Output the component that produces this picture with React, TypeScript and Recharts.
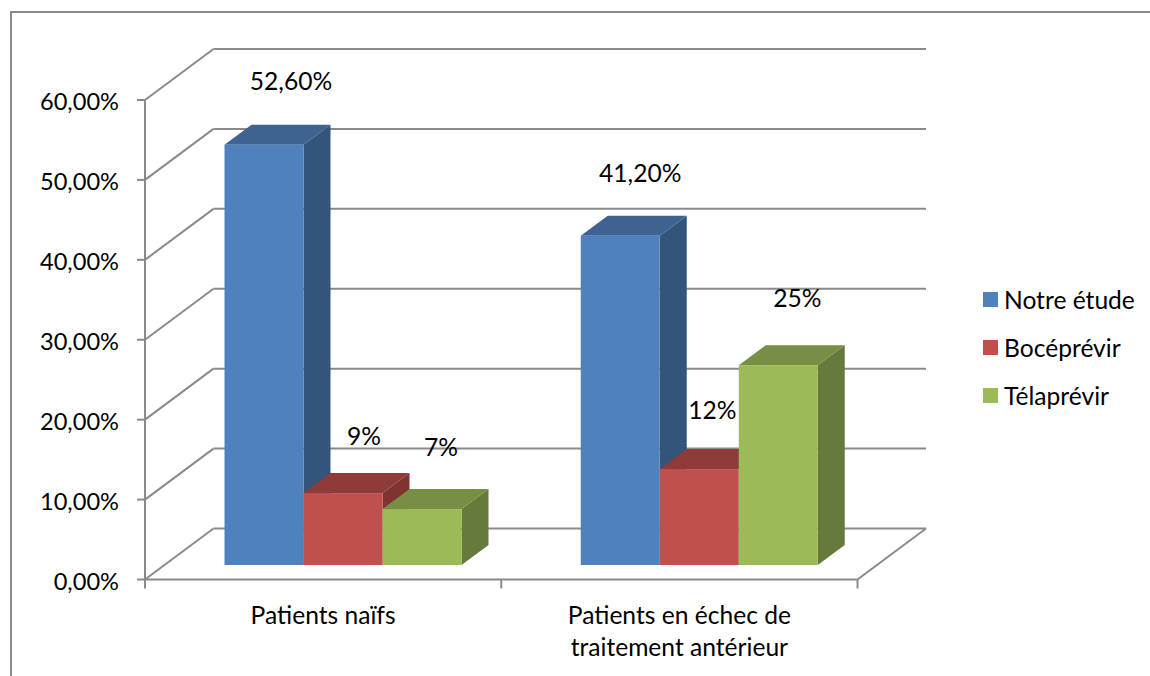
import React from "react";
import { BarChart, Bar, XAxis, YAxis, CartesianGrid, Legend, LabelList } from "recharts";

const categories = ["Patients naïfs", "Patients en échec de traitement antérieur"];
const categoryLines = [["Patients naïfs"], ["Patients en échec de", "traitement antérieur"]];
const yTicks = [0, 10, 20, 30, 40, 50, 60];

const notreEtude = [52.6, 41.2];
const boceprevir = [9, 12];
const telaprevir = [7, 25];

const notreEtudeLabels = ["52,60%", "41,20%"];
const boceprevirLabels = ["9%", "12%"];
const telaprevirLabels = ["7%", "25%"];

const data = categories.map((name, i) => ({
  name,
  etude: notreEtude[i],
  boce: boceprevir[i],
  tela: telaprevir[i],
}));

const W = 1150;
const H = 676;
const FONT = "Lato, sans-serif";
const FONT_SIZE = 24.6;
const LINE = "#8a8a8a";

const margin = { top: 100, right: 292.5, bottom: 0, left: 0 };
const YAXIS_W = 145;
const XAXIS_H = 96.5;
const PLOT_W = W - YAXIS_W - margin.right;
const BASE_Y = H - XAXIS_H;

// 3d look: back wall offset, bar front offset from the axis plane, bar depth
const WALL = { dx: 68.5, dy: -51 };
const FRONT = { dx: 20.5, dy: -14.5 };
const DEPTH = { dx: 27, dy: -20 };

const makeBar3d = (front: string, top: string, side: string) => (props: any) => {
  const { x, y, width, height } = props;
  const l = x + FRONT.dx;
  const r = l + width;
  const t = y + FRONT.dy;
  const b = t + height;
  return (
    <g>
      <polygon
        points={`${r},${t} ${r + DEPTH.dx},${t + DEPTH.dy} ${r + DEPTH.dx},${b + DEPTH.dy} ${r},${b}`}
        fill={side}
      />
      <polygon
        points={`${l},${t} ${l + DEPTH.dx},${t + DEPTH.dy} ${r + DEPTH.dx},${t + DEPTH.dy} ${r},${t}`}
        fill={top}
      />
      <rect x={l} y={t} width={width} height={height} fill={front} />
    </g>
  );
};

const makeLabel = (labels: string[], nudges: number[][]) => (props: any) => {
  const { x, y, width, index } = props;
  return (
    <text
      x={x + FRONT.dx + width / 2 + nudges[index][0]}
      y={y + FRONT.dy + nudges[index][1]}
      textAnchor="middle"
      dominantBaseline="central"
      fontFamily={FONT}
      fontSize={FONT_SIZE}
      fill="#000"
    >
      {labels[index]}
    </text>
  );
};

const gridLine = (props: any) => {
  const { x1, x2, y1, key } = props;
  const isFloor = Math.abs(y1 - BASE_Y) < 1;
  return (
    <g key={key}>
      <line x1={x1} y1={y1} x2={x1 + WALL.dx} y2={y1 + WALL.dy} stroke={LINE} strokeWidth={2} />
      <line x1={x1 + WALL.dx} y1={y1 + WALL.dy} x2={x2 + WALL.dx} y2={y1 + WALL.dy} stroke={LINE} strokeWidth={2} />
      {isFloor && <line x1={x2} y1={y1} x2={x2 + WALL.dx} y2={y1 + WALL.dy} stroke={LINE} strokeWidth={2} />}
    </g>
  );
};

const CategoryTick = (props: any) => {
  const { x, index } = props;
  const half = PLOT_W / categories.length / 2;
  const top = BASE_Y;
  return (
    <g>
      <line x1={x - half} y1={top} x2={x - half} y2={top + 9} stroke={LINE} strokeWidth={2} />
      {index === categories.length - 1 && (
        <line x1={x + half} y1={top} x2={x + half} y2={top + 9} stroke={LINE} strokeWidth={2} />
      )}
      {categoryLines[index].map((line, i) => (
        <text
          key={line}
          x={x}
          y={top + 35 + i * 32}
          textAnchor="middle"
          dominantBaseline="central"
          fontFamily={FONT}
          fontSize={FONT_SIZE}
          fill="#000"
        >
          {line}
        </text>
      ))}
    </g>
  );
};

const ValueTick = (props: any) => {
  const { x, y, payload } = props;
  return (
    <text
      x={x}
      y={y + 1}
      textAnchor="end"
      dominantBaseline="central"
      fontFamily={FONT}
      fontSize={23.6}
      fill="#000"
    >
      {`${payload.value.toFixed(2).replace(".", ",")}%`}
    </text>
  );
};

const LegendBox = ({ payload }: any) => (
  <div style={{ fontFamily: FONT, fontSize: FONT_SIZE, color: "#000" }}>
    {(payload || []).map((item: any) => (
      <div key={item.value} style={{ display: "flex", alignItems: "center", height: 48 }}>
        <span style={{ width: 15, height: 15, background: item.color, marginRight: 6 }} />
        <span>{item.value}</span>
      </div>
    ))}
  </div>
);

export default function App() {
  return (
    <div style={{ position: "absolute", left: 0, top: 0, width: W, height: H, background: "#fff", overflow: "hidden" }}>
      <div
        style={{
          position: "absolute",
          left: 10,
          top: 11,
          right: 0,
          bottom: 0,
          borderLeft: `2px solid ${LINE}`,
          borderTop: `2px solid ${LINE}`,
        }}
      />
      <BarChart width={W} height={H} data={data} margin={margin} barCategoryGap={59} barGap={0}>
        <CartesianGrid horizontal={gridLine} vertical={false} />
        <XAxis
          dataKey="name"
          height={XAXIS_H}
          axisLine={{ stroke: LINE, strokeWidth: 2 }}
          tickLine={false}
          tick={<CategoryTick />}
          interval={0}
        />
        <YAxis
          width={YAXIS_W}
          domain={[0, 60]}
          ticks={yTicks}
          interval={0}
          axisLine={{ stroke: LINE, strokeWidth: 2 }}
          tickLine={{ stroke: LINE, strokeWidth: 2 }}
          tickSize={8}
          tickMargin={18}
          tick={<ValueTick />}
        />
        <Legend
          layout="vertical"
          align="center"
          verticalAlign="middle"
          itemSorter={null}
          content={<LegendBox />}
          wrapperStyle={{ left: 983, top: 275, width: 167 }}
        />
        <Bar
          dataKey="etude"
          name="Notre étude"
          fill="#4f81bd"
          isAnimationActive={false}
          shape={makeBar3d("#4f81bd", "#3e6391", "#33547b")}
        >
          <LabelList content={makeLabel(notreEtudeLabels, [[27, -64], [20, -63.5]])} />
        </Bar>
        <Bar
          dataKey="boce"
          name="Bocéprévir"
          fill="#c0504d"
          isAnimationActive={false}
          shape={makeBar3d("#c0504d", "#8e3b3a", "#7f3432")}
        >
          <LabelList content={makeLabel(boceprevirLabels, [[21, -57.5], [13, -59.5]])} />
        </Bar>
        <Bar
          dataKey="tela"
          name="Télaprévir"
          fill="#9bbb59"
          isAnimationActive={false}
          shape={makeBar3d("#9bbb59", "#778f45", "#657a3b")}
        >
          <LabelList content={makeLabel(telaprevirLabels, [[19, -62.5], [19, -68]])} />
        </Bar>
      </BarChart>
    </div>
  );
}
